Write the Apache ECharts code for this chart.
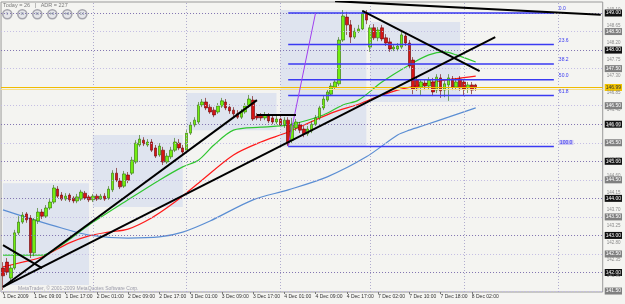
<!DOCTYPE html>
<html><head><meta charset="utf-8">
<script src="https://cdn.jsdelivr.net/npm/echarts@6/dist/echarts.min.js"></script>
<style>html,body{margin:0;padding:0;background:#f4f4f1}#c{width:625px;height:304px}</style>
</head><body><div id="c"></div><script>
const timeLabels = ["1 Dec 2009","1 Dec 09:00","1 Dec 17:00","2 Dec 01:00","2 Dec 09:00","2 Dec 17:00","3 Dec 01:00","3 Dec 09:00","3 Dec 17:00","4 Dec 01:00","4 Dec 09:00","4 Dec 17:00","7 Dec 02:00","7 Dec 10:00","7 Dec 18:00","8 Dec 02:00"];
// hourly bars: [open, close, low, high]
const bars = [
[142.12,141.91,141.53,142.28],[142.28,142.01,141.93,142.39],[141.85,142.12,141.74,142.20],[142.12,143.07,142.07,143.15],
[143.07,143.36,143.01,143.52],[143.36,143.55,143.31,143.63],[143.58,143.42,143.34,143.63],[143.47,142.53,142.39,143.55],
[142.53,143.42,142.44,143.47],[143.39,143.63,143.31,143.74],[143.63,143.52,143.44,143.71],[143.52,143.74,143.47,143.82],
[143.74,143.90,143.69,143.98],[143.90,144.28,143.85,144.36],[144.25,144.06,144.01,144.33],[144.09,143.98,143.93,144.17],
[143.98,144.06,143.93,144.14],[144.09,143.96,143.90,144.14],[144.01,143.93,143.87,144.06],[143.93,144.04,143.87,144.12],
[143.98,144.17,143.93,144.23],[144.14,144.01,143.96,144.20],[144.04,143.96,143.90,144.09],[143.96,144.06,143.90,144.12],
[144.06,143.98,143.93,144.12],[143.98,144.06,143.96,144.12],[144.06,143.98,143.93,144.14],[144.01,144.25,143.96,144.33],
[144.23,144.68,144.17,144.76],[144.68,144.49,144.44,144.82],[144.47,144.31,144.25,144.55],[144.33,144.66,144.28,144.74],
[144.63,144.49,144.41,144.71],[144.68,145.03,144.63,145.12],[144.98,145.49,144.93,145.57],[145.44,145.60,145.39,145.71],
[145.57,145.47,145.41,145.65],[145.44,145.52,145.39,145.60],[145.52,145.30,145.25,145.60],[145.36,145.14,145.09,145.44],
[145.17,145.41,145.12,145.49],[145.30,144.98,144.90,145.39],[144.98,145.14,144.93,145.22],[145.12,145.30,145.06,145.39],
[145.30,145.52,145.25,145.63],[145.49,145.36,145.30,145.60],[145.36,145.25,145.17,145.44],[145.30,145.76,145.25,145.84],
[145.76,145.98,145.71,146.06],[145.98,146.11,145.92,146.19],[146.06,146.52,146.00,146.60],[146.52,146.60,146.46,146.68],
[146.60,146.44,146.38,146.71],[146.46,146.33,146.28,146.54],[146.38,146.25,146.19,146.46],[146.33,146.49,146.28,146.57],
[146.49,146.63,146.44,146.71],[146.60,146.44,146.38,146.68],[146.46,146.36,146.28,146.54],[146.38,146.28,146.19,146.46],
[146.28,146.19,146.14,146.38],[146.19,146.33,146.14,146.41],[146.33,146.49,146.28,146.57],[146.49,146.68,146.44,146.79],
[146.65,146.14,146.09,146.76],[146.22,146.17,146.11,146.30],[146.25,146.17,146.09,146.30],[146.17,146.25,146.11,146.33],
[146.22,146.09,146.03,146.30],[146.17,146.06,146.00,146.25],[146.06,146.14,146.00,146.22],[146.14,145.98,145.92,146.22],
[145.98,146.11,145.90,146.19],[146.11,145.47,145.41,146.19],[145.57,145.98,145.49,146.17],[145.90,146.06,145.82,146.14],
[145.98,145.84,145.76,146.06],[145.87,145.74,145.65,145.95],[145.74,145.87,145.68,145.95],[145.82,146.00,145.76,146.09],
[146.00,146.17,145.95,146.25],[146.17,146.44,146.11,146.52],[146.44,146.68,146.38,146.76],[146.65,146.87,146.60,146.95],
[146.81,147.03,146.76,147.11],[147.00,147.14,146.95,147.22],[147.09,148.27,147.03,148.35],[148.27,148.92,148.22,149.08],
[148.89,148.68,148.41,149.03],[148.68,148.35,148.19,148.81],[148.35,148.51,148.30,148.60],[148.51,148.57,148.46,148.68],
[148.57,149.00,148.54,149.08],[149.00,148.81,148.70,149.08],[148.08,148.60,147.95,148.68],[148.60,148.33,148.27,148.70],
[148.33,148.54,148.24,148.62],[148.60,148.30,148.24,148.68],[148.33,148.19,148.11,148.43],[148.22,148.03,147.95,148.33],
[148.03,148.08,147.97,148.14],[148.03,148.11,147.97,148.19],[148.08,148.41,148.03,148.51],[148.38,148.19,148.11,148.46],
[148.19,147.57,147.49,148.27],[147.73,146.95,146.81,147.81],[147.19,146.98,146.90,147.27],[147.00,147.14,146.79,147.19],
[147.11,147.03,146.92,147.19],[147.03,147.19,146.95,147.27],[147.14,146.87,146.76,147.25],[146.92,147.27,146.84,147.35],
[147.25,146.90,146.71,147.35],[146.92,147.09,146.73,147.17],[147.06,147.25,146.63,147.35],[147.22,147.00,146.92,147.30],
[147.00,147.14,146.92,147.25],[147.22,146.98,146.90,147.30],[147.14,146.95,146.76,147.19],[146.98,147.06,146.84,147.14],
[147.06,146.92,146.81,147.14],[147.06,146.98,146.90,147.09]
];
// moving averages: [bar index, price]
const maGreen = [[0,142.47],[10,142.47],[15,142.74],[22,143.28],[32,143.96],[40,144.49],[46,144.85],[50,145.03],[54,145.44],[59,145.84],[66,145.92],[73,145.98],[82,146.25],[87,146.52],[91,146.65],[97,147.14],[104,147.60],[109,147.87],[113,147.95],[116,147.87],[121,147.68]];
const maRed = [[0,142.15],[5,142.28],[10,142.42],[17,142.80],[22,142.99],[27,143.09],[32,143.17],[38,143.47],[44,143.90],[50,144.41],[59,145.17],[66,145.52],[73,145.79],[84,146.30],[91,146.54],[95,146.71],[101,146.92],[109,147.11],[115,147.22],[121,147.30]];
const maBlue = [[0,143.69],[8,143.42],[15,143.20],[22,143.01],[32,142.93],[40,142.96],[46,143.09],[53,143.39],[64,143.96],[73,144.23],[83,144.58],[93,145.12],[101,145.71],[104,145.84],[108,145.98],[114,146.19],[121,146.44]];
// drawn trend lines: endpoints [bar index, price]
const trendLines = [
  [[0,142.74],[10,142.12]],
  [[0,141.61],[65,146.65]],
  [[0,141.61],[126,148.35]],
  [[92,149.06],[122,147.43]],
  [[85,149.32],[153,148.95]],
  [[65,146.25],[75,146.25]]
];
const fibNames = ["0.0","23.6","38.2","50.0","61.8","100.0"];
const fibPrices = [149.00,148.15,147.625,147.20,146.775,145.40];
const fibStart = 73, fibEnd = 141;
const fibDiag = [[73,145.41],[80,149.00]];
// session boxes: [fromBar, toBar, lowPrice, highPrice]
const boxes = [[0,22,141.66,144.41],[23,46,143.77,145.71],[47,70,145.84,146.84],[71,93,145.39,149.08],[94,117,146.60,148.76]];
const gridPrices = [141.5,142.0,142.5,143.0,143.5,144.0,144.5,145.0,145.5,146.0,146.5,147.5,148.0,148.5,149.0];
const scalePrices = [149.10,148.65,148.20,147.75,147.30,146.85,146.40,145.95,145.05,144.60,144.15,143.70,143.25,142.80,142.35,141.90];
const bidPrices = [146.99,146.94];
const dayStarts = ["23","47","71","94","118","142"];
const nCats = 154;

const cats = [];
for (let i = 0; i < nCats; i++) cats.push(String(i));
const candleData = bars.slice();
while (candleData.length < nCats) candleData.push('-');

const FONT = 'Liberation Sans';
const chart = echarts.init(document.getElementById('c'), null, {renderer: 'canvas'});

const gridMarks = gridPrices.map(p => ({
  yAxis: p,
  lineStyle: {color: (p % 1 === 0) ? '#8073b0' : '#c4bde4', type: [1, 2], width: 1}
}));
const vMarks = dayStarts.map(d => ({xAxis: d, lineStyle: {color: '#b0acce', type: [1, 2], width: 1}}));

const series = [
  {
    type: 'line', data: [], z: 1, silent: true,
    markArea: {silent: true, itemStyle: {color: 'rgba(192,206,236,0.42)', borderWidth: 0},
      data: boxes.map(b => [{xAxis: b[0], yAxis: b[2]}, {xAxis: b[1], yAxis: b[3]}])},
    markLine: {silent: true, symbol: 'none', label: {show: false}, animation: false,
      data: gridMarks.concat(vMarks)}
  },
  {
    type: 'line', data: [], z: 2, silent: true,
    markLine: {silent: true, symbol: 'none', label: {show: false}, animation: false,
      data: bidPrices.map((p, k) => ({yAxis: p, lineStyle: {color: k === 0 ? '#f0bc00' : '#f8e08a', type: 'solid', width: 1.2}}))}
  },
  {type: 'line', data: maBlue, smooth: 0.3, symbol: 'none', z: 3, lineStyle: {color: '#5b8ed3', width: 1.2}},
  {type: 'line', data: maRed, smooth: 0.3, symbol: 'none', z: 3, lineStyle: {color: '#ff1a1a', width: 1.2}},
  {type: 'line', data: maGreen, smooth: 0.3, symbol: 'none', z: 3, lineStyle: {color: '#2fc62f', width: 1.2}},
  {
    type: 'candlestick', data: candleData, barWidth: 3, z: 4,
    itemStyle: {color: '#72ee10', borderColor: '#2d6e00', color0: '#d81414', borderColor0: '#6a0000', borderWidth: 0.6}
  }
];
fibPrices.forEach((p, k) => {
  series.push({
    type: 'line', data: [[fibStart, p], [fibEnd, p]], symbol: 'none', z: 5,
    lineStyle: {color: '#3a3af2', width: 1.5},
    endLabel: {show: true, formatter: fibNames[k], color: '#3a3af2', fontSize: 5, fontFamily: FONT,
      offset: [-3, -4],
      backgroundColor: k === 5 ? '#c9c3f2' : 'transparent', padding: k === 5 ? [0, 1] : 0}
  });
});
series.push({type: 'line', data: fibDiag, symbol: 'none', z: 5, lineStyle: {color: '#a040f0', width: 1}});
trendLines.forEach(t => {
  series.push({type: 'line', data: t, symbol: 'none', z: 6, lineStyle: {color: '#000', width: 2}});
});

const labelRich = {
  b: {backgroundColor: '#111', color: '#fff', fontSize: 5, fontFamily: FONT, padding: [1, 1]},
  g: {backgroundColor: '#808080', color: '#fff', fontSize: 5, fontFamily: FONT, padding: [1, 1]},
  y: {backgroundColor: '#f2c400', color: '#333', fontSize: 5, fontFamily: FONT, padding: [1, 1]}
};

const yMin = 141.474, yMax = 149.297;
const option = {
  animation: false,
  backgroundColor: '#f4f4f1',
  grid: {left: 0, right: 19, top: 2, bottom: 12, show: true, borderColor: '#9a9a9a', borderWidth: 1, backgroundColor: 'transparent'},
  xAxis: {
    type: 'category', data: cats, boundaryGap: true,
    axisLine: {show: false},
    axisTick: {show: true, length: 2, alignWithLabel: true, interval: (i) => i % 8 === 0 && i / 8 < timeLabels.length, lineStyle: {color: '#777'}},
    axisLabel: {interval: (i) => i % 8 === 0 && i / 8 < timeLabels.length,
      formatter: (v, i) => timeLabels[i / 8] || '', align: 'left', color: '#333', fontSize: 5, fontFamily: FONT, margin: 2},
    splitLine: {show: false}
  },
  yAxis: [
    {type: 'value', position: 'right', min: yMin, max: yMax, scale: true,
      axisLine: {show: false}, axisTick: {show: false}, splitLine: {show: false},
      axisLabel: {customValues: gridPrices.concat([bidPrices[0]]), margin: 2, rich: labelRich,
        formatter: (v) => {
          if (Math.abs(v - bidPrices[0]) < 1e-6) return '{y|' + v.toFixed(2) + '}';
          return (Math.abs(v % 1) < 1e-6 ? '{b|' : '{g|') + v.toFixed(2) + '}';
        }}
    },
    {type: 'value', position: 'right', min: yMin, max: yMax, scale: true,
      axisLine: {show: false}, axisTick: {show: false}, splitLine: {show: false},
      axisLabel: {customValues: scalePrices, margin: 4, color: '#8a8a8a', fontSize: 4.5, fontFamily: FONT,
        formatter: (v) => v.toFixed(2)}
    }
  ],
  graphic: [
    {type: 'text', left: 3, top: 2, style: {text: 'Today = 26   |   ADR = 227', fill: '#7a7a7a', fontSize: 5.5, fontFamily: FONT}},
    {type: 'text', left: 18, top: 286, style: {text: 'MetaTrader, © 2001-2009 MetaQuotes Software Corp.', fill: '#9a9aa8', fontSize: 5, fontFamily: FONT}}
  ].concat(["5","15","30","H1","H4","D1"].map((t, k) => ({
    type: 'group', left: 2 + k * 15, top: 9,
    children: [
      {type: 'circle', shape: {cx: 5, cy: 5, r: 4.5}, style: {fill: '#e6e6ea', stroke: '#a5a5ad', lineWidth: 1.6}},
      {type: 'text', x: 5, y: 5, style: {text: t, fill: '#6a7a8a', fontSize: 3.5, fontFamily: FONT, align: 'center', verticalAlign: 'middle'}}
    ]
  }))),
  series: series
};
chart.setOption(option);
</script></body></html>
